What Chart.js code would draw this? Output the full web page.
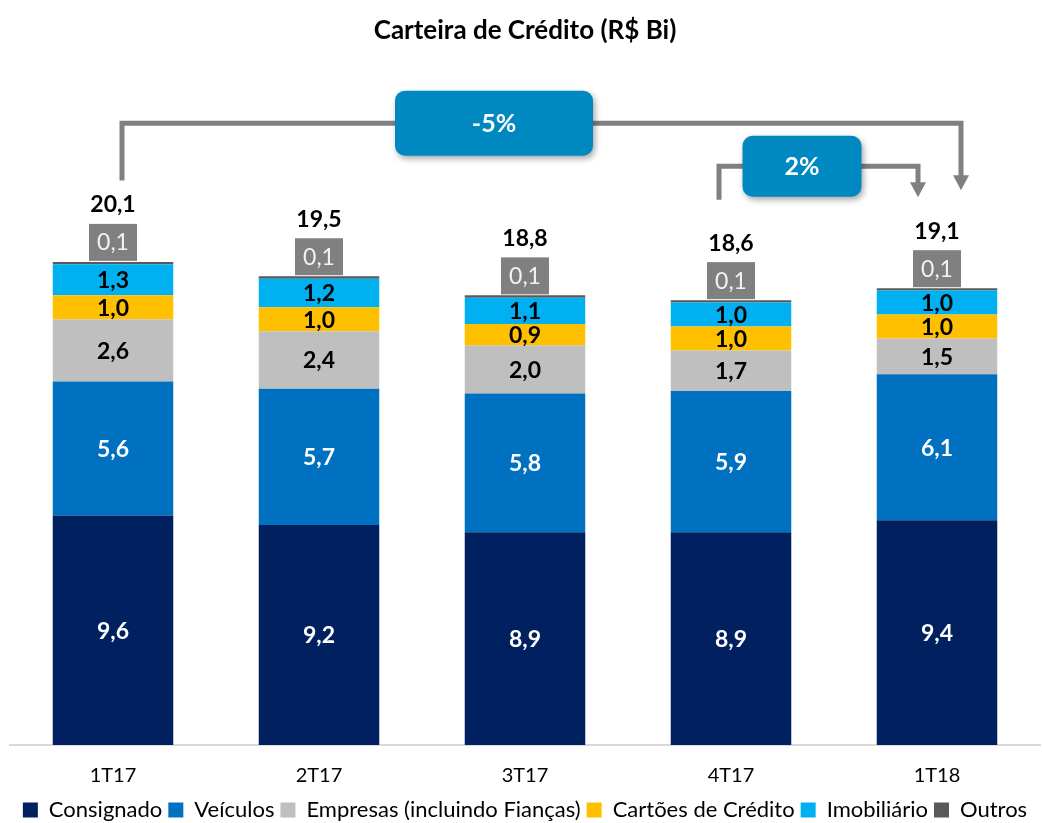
<!DOCTYPE html>
<html>
<head>
<meta charset="utf-8">
<script src="https://cdn.jsdelivr.net/npm/chart.js@4"></script>
<style>
  body { margin: 0; background: #fff; }
  #wrap { width: 1042px; height: 823px; position: relative; }
</style>
</head>
<body>
<div id="wrap"><canvas id="credit-chart"></canvas></div>
<script>
// Data (R$ Bi)
const categories = ['1T17', '2T17', '3T17', '4T17', '1T18'];
const consignado = [9.6, 9.2, 8.9, 8.9, 9.4];
const veiculos = [5.6, 5.7, 5.8, 5.9, 6.1];
const empresas = [2.6, 2.4, 2.0, 1.7, 1.5];
const cartoes = [1.0, 1.0, 0.9, 1.0, 1.0];
const imobiliario = [1.3, 1.2, 1.1, 1.0, 1.0];
const outros = [0.1, 0.1, 0.1, 0.1, 0.1];
const totals = [20.1, 19.5, 18.8, 18.6, 19.1];
const growthLabels = ['-5%', '2%'];

const FONT = 'Lato, "Open Sans", sans-serif';
const fmt = v => v.toFixed(1).replace('.', ',');

// label colour per dataset (white on dark navy/blue, black elsewhere)
const labelColors = ['#ffffff', '#ffffff', '#000000', '#000000', '#000000', null];

function roundRect(c, x, y, w, h, r) {
    c.beginPath();
    c.moveTo(x + r, y);
    c.arcTo(x + w, y, x + w, y + h, r);
    c.arcTo(x + w, y + h, x, y + h, r);
    c.arcTo(x, y + h, x, y, r);
    c.arcTo(x, y, x + w, y, r);
    c.closePath();
}

function arrowHead(c, x, y) {
    c.beginPath();
    c.moveTo(x - 8, y - 15);
    c.lineTo(x + 8, y - 15);
    c.lineTo(x, y);
    c.closePath();
    c.fill();
}

function growthBox(c, cx, cy, w, h, text) {
    c.save();
    c.shadowColor = 'rgba(0,0,0,0.35)';
    c.shadowBlur = 6;
    c.shadowOffsetX = 2;
    c.shadowOffsetY = 3;
    c.fillStyle = '#0088C0';
    roundRect(c, cx - w / 2, cy - h / 2, w, h, 10);
    c.fill();
    c.restore();
    c.fillStyle = '#ffffff';
    c.font = 'bold 25px ' + FONT;
    c.textAlign = 'center';
    c.textBaseline = 'middle';
    c.fillText(text, cx, cy + 1);
}

const labelPlugin = {
    id: 'labels',
    afterDatasetsDraw(chart) {
        const c = chart.ctx;
        const xs = chart.scales.x, ys = chart.scales.y;
        c.save();
        c.textAlign = 'center';
        c.textBaseline = 'middle';

        // segment values
        chart.data.datasets.forEach((ds, i) => {
            const meta = chart.getDatasetMeta(i);
            meta.data.forEach((bar, j) => {
                const v = ds.data[j];
                if (i === 5) {
                    // grey tag above the bar
                    const top = bar.y - 1;
                    c.fillStyle = '#808080';
                    c.fillRect(bar.x - 24, top - 37, 48, 37);
                    c.fillStyle = '#F2F2F2';
                    c.font = '23px ' + FONT;
                    c.fillText(fmt(v), bar.x, top - 18);
                } else {
                    c.fillStyle = labelColors[i];
                    c.font = 'bold 23px ' + FONT;
                    c.fillText(fmt(v), bar.x, (bar.y + bar.base) / 2 + 1);
                }
            });
        });

        // totals
        c.fillStyle = '#000';
        c.font = 'bold 23px ' + FONT;
        totals.forEach((t, j) => {
            const bar = chart.getDatasetMeta(5).data[j];
            c.fillText(fmt(t), bar.x, bar.y - 57);
        });

        // growth brackets
        c.strokeStyle = '#808080';
        c.fillStyle = '#808080';
        c.lineWidth = 5;
        c.lineJoin = 'miter';
        const x0 = xs.getPixelForValue(0) + 9;
        const x4 = xs.getPixelForValue(4) + 24;
        const yTop = ys.getPixelForValue(26.0);
        c.beginPath();
        c.moveTo(x0, ys.getPixelForValue(23.6));
        c.lineTo(x0, yTop);
        c.lineTo(x4, yTop);
        c.lineTo(x4, ys.getPixelForValue(23.2) - 14);
        c.stroke();
        arrowHead(c, x4, ys.getPixelForValue(23.2));

        const x3 = xs.getPixelForValue(3) - 12;
        const x4b = xs.getPixelForValue(4) - 19;
        const yMid = ys.getPixelForValue(24.2);
        c.beginPath();
        c.moveTo(x3, ys.getPixelForValue(22.8));
        c.lineTo(x3, yMid);
        c.lineTo(x4b, yMid);
        c.lineTo(x4b, ys.getPixelForValue(22.9) - 14);
        c.stroke();
        arrowHead(c, x4b, ys.getPixelForValue(22.9));

        const gx = (xs.getPixelForValue(1) + xs.getPixelForValue(2)) / 2 + 72;
        growthBox(c, gx, yTop, 198, 65, growthLabels[0]);
        const gx2 = (xs.getPixelForValue(3) + xs.getPixelForValue(4)) / 2 - 32;
        growthBox(c, gx2, yMid, 119, 61, growthLabels[1]);

        c.restore();
    }
};

const ds = (label, data, color) => ({
    label: label,
    data: data,
    backgroundColor: color,
    borderWidth: 0,
    barPercentage: 0.585,
    categoryPercentage: 1.0
});

new Chart(document.getElementById('credit-chart'), {
    type: 'bar',
    data: {
        labels: categories,
        datasets: [
            ds('Consignado', consignado, '#002060'),
            ds('Veículos', veiculos, '#0070C0'),
            ds('Empresas (incluindo Fianças)', empresas, '#BFBFBF'),
            ds('Cartões de Crédito', cartoes, '#FFC000'),
            ds('Imobiliário', imobiliario, '#00B0F0'),
            ds('Outros', outros, '#595959')
        ]
    },
    options: {
        responsive: true,
        maintainAspectRatio: false,
        animation: false,
        // small negative bottom pad so the legend row sits where the original has it
        layout: { padding: { left: 10, right: 2, top: 0, bottom: -8 } },
        plugins: {
            title: {
                display: true,
                text: 'Carteira de Crédito (R$ Bi)',
                color: '#000',
                font: { family: FONT, size: 26, weight: 'bold' },
                padding: { top: 15, bottom: 10 }
            },
            legend: {
                position: 'bottom',
                labels: {
                    color: '#000',
                    font: { family: FONT, size: 22 },
                    boxWidth: 15,
                    boxHeight: 15,
                    padding: 6
                }
            },
            tooltip: { enabled: false }
        },
        scales: {
            x: {
                stacked: true,
                grid: { display: false },
                border: { display: true, color: '#D9D9D9', width: 2 },
                ticks: { color: '#000', font: { family: FONT, size: 20 }, padding: 11 },
                afterFit: (scale) => { scale.height = 48; }
            },
            y: {
                stacked: true,
                display: false,
                min: 0,
                max: 28.8
            }
        }
    },
    plugins: [labelPlugin]
});
</script>
</body>
</html>
